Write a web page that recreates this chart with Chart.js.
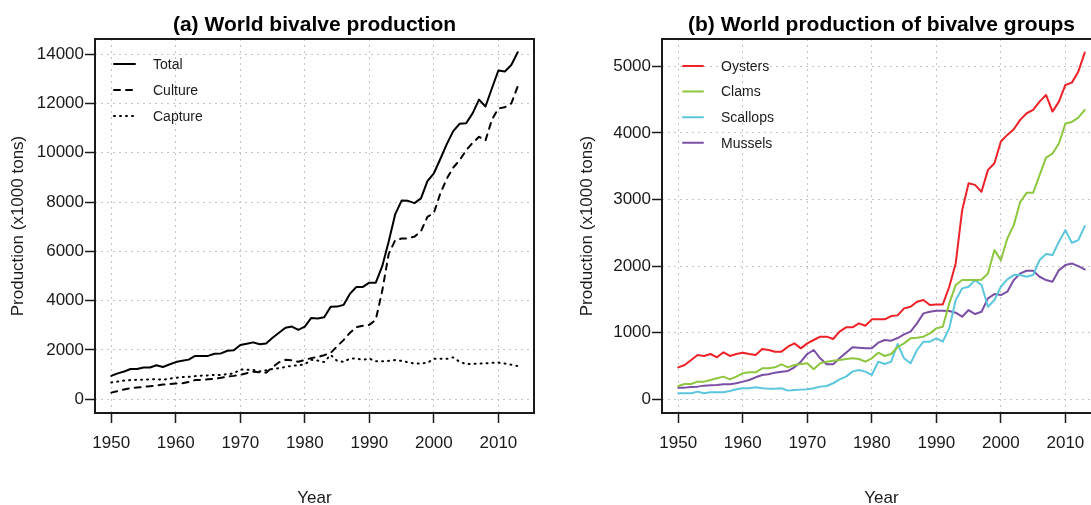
<!DOCTYPE html>
<html>
<head>
<meta charset="utf-8">
<script src="https://cdn.jsdelivr.net/npm/chart.js@4/dist/chart.umd.min.js"></script>
<style>
  html, body { margin: 0; padding: 0; background: #ffffff; }
  body { width: 1091px; height: 505px; overflow: hidden; position: relative; }
  .panel { position: absolute; top: 0; width: 560px; height: 505px; }
  #panelA { left: 0; }
  #panelB { left: 560px; }
</style>
</head>
<body>
<div class="panel" id="panelA"><canvas id="chartA" width="560" height="505"></canvas></div>
<div class="panel" id="panelB"><canvas id="chartB" width="560" height="505"></canvas></div>
<script>
// Years of record
const years = [1950,1951,1952,1953,1954,1955,1956,1957,1958,1959,
  1960,1961,1962,1963,1964,1965,1966,1967,1968,1969,
  1970,1971,1972,1973,1974,1975,1976,1977,1978,1979,
  1980,1981,1982,1983,1984,1985,1986,1987,1988,1989,
  1990,1991,1992,1993,1994,1995,1996,1997,1998,1999,
  2000,2001,2002,2003,2004,2005,2006,2007,2008,2009,
  2010,2011,2012,2013];

// Axis tick labels
const yearTicks = [1950, 1960, 1970, 1980, 1990, 2000, 2010];
const ticksA = [0, 2000, 4000, 6000, 8000, 10000, 12000, 14000];
const ticksB = [0, 1000, 2000, 3000, 4000, 5000];

// (a) World bivalve production, x1000 tons
const total = [950,1050,1130,1230,1230,1290,1290,1380,1310,1410,
  1510,1560,1610,1760,1760,1760,1850,1860,1970,1990,
  2200,2250,2310,2230,2260,2500,2700,2900,2950,2820,
  2950,3300,3280,3330,3750,3760,3830,4280,4560,4560,
  4730,4730,5400,6400,7500,8060,8050,7960,8150,8850,
  9170,9750,10350,10880,11180,11200,11600,12160,11880,12620,
  13340,13300,13560,14080];
const culture = [270,330,400,450,480,500,530,560,600,620,
  640,650,700,780,790,810,830,870,920,950,
  990,1060,1120,1100,1080,1300,1500,1600,1580,1520,
  1600,1670,1720,1790,1880,2150,2400,2700,2930,2980,
  3020,3230,4400,5900,6450,6520,6530,6600,6820,7400,
  7560,8350,8950,9400,9700,10100,10400,10650,10500,11350,
  11800,11850,12000,12700];
const capture = [680,720,760,780,790,800,810,820,790,840,
  870,900,910,940,960,970,990,990,1020,1050,
  1210,1200,1190,1130,1180,1230,1260,1310,1360,1380,
  1420,1600,1570,1510,1800,1560,1520,1650,1650,1600,
  1650,1540,1540,1560,1590,1560,1500,1450,1450,1480,
  1640,1650,1640,1700,1520,1430,1440,1450,1460,1480,
  1490,1450,1400,1350];

// (b) World production of bivalve groups, x1000 tons
const oysters = [480,515,590,665,650,680,630,705,650,680,
  700,680,665,755,740,715,715,790,840,765,
  840,890,940,940,905,1015,1080,1080,1140,1105,
  1200,1200,1200,1250,1260,1365,1390,1465,1490,1415,
  1425,1425,1690,2040,2840,3245,3220,3115,3445,3545,
  3870,3970,4055,4195,4295,4345,4470,4570,4320,4470,
  4720,4755,4920,5205];
const clams = [200,230,230,265,265,290,315,340,300,340,
  390,405,405,465,465,480,525,480,515,530,
  540,450,540,565,580,590,605,615,605,565,
  615,700,650,680,785,840,915,925,940,990,
  1065,1090,1440,1715,1790,1790,1790,1795,1890,2240,
  2090,2415,2615,2965,3100,3100,3365,3630,3690,3840,
  4140,4165,4230,4345];
const scallops = [90,90,90,115,90,105,105,105,125,150,
  165,165,180,165,160,160,165,130,140,145,
  150,165,190,200,240,300,340,415,440,415,
  365,565,530,565,830,615,540,740,865,865,
  915,865,1065,1490,1665,1690,1790,1715,1390,1490,
  1690,1800,1865,1865,1840,1865,2090,2180,2165,2365,
  2540,2350,2390,2600];
const mussels = [175,175,185,190,205,210,215,225,225,240,
  265,290,330,365,375,400,415,425,480,565,
  680,740,615,525,525,615,700,780,775,765,
  765,850,890,880,920,975,1015,1140,1290,1315,
  1330,1330,1325,1300,1240,1340,1280,1315,1515,1580,
  1565,1615,1790,1890,1930,1930,1840,1790,1765,1940,
  2015,2040,2000,1950];

const FONT = '"Liberation Sans", Arial, Helvetica, sans-serif';
const INK = '#1a1a1a';

// Frame, titles and legend for an R-style panel
const panelDecor = {
  id: 'panelDecor',
  afterDraw(chart, args, opts) {
    const { ctx, chartArea: a } = chart;
    const cx = (a.left + a.right) / 2;
    ctx.save();
    ctx.strokeStyle = INK;
    ctx.lineWidth = 2;
    ctx.strokeRect(a.left, a.top, a.right - a.left, a.bottom - a.top);

    ctx.fillStyle = '#000';
    ctx.textAlign = 'center';
    ctx.textBaseline = 'alphabetic';
    ctx.font = 'bold 21px ' + FONT;
    ctx.fillText(opts.title, cx, 31);

    ctx.fillStyle = INK;
    ctx.font = '17px ' + FONT;
    ctx.fillText(opts.xTitle, cx, 503);

    ctx.save();
    ctx.translate(opts.yTitleX, (a.top + a.bottom) / 2);
    ctx.rotate(-Math.PI / 2);
    ctx.textBaseline = 'middle';
    ctx.fillText(opts.yTitle, 0, 0);
    ctx.restore();

    // legend
    const lg = opts.legend;
    ctx.font = '14px ' + FONT;
    ctx.textAlign = 'left';
    ctx.textBaseline = 'middle';
    chart.data.datasets.forEach((ds, i) => {
      const y = lg.y + i * lg.row;
      ctx.save();
      ctx.strokeStyle = ds.borderColor;
      ctx.lineWidth = ds.borderWidth;
      ctx.lineCap = ds.borderCapStyle || 'butt';
      ctx.setLineDash(ds.borderDash || []);
      ctx.beginPath();
      ctx.moveTo(lg.x0, y);
      ctx.lineTo(lg.x1, y);
      ctx.stroke();
      ctx.restore();
      ctx.fillStyle = INK;
      ctx.fillText(ds.label, lg.tx, y + 1);
    });
    ctx.restore();
  }
};

function series(label, data, color, dash) {
  return {
    label, data,
    borderColor: color,
    backgroundColor: color,
    borderWidth: 2,
    borderDash: dash,
    borderCapStyle: 'round',
    borderJoinStyle: 'round',
    pointRadius: 0,
    tension: 0,
    fill: false
  };
}

const gridStyle = {
  color: '#c4c4c4',
  lineWidth: 1,
  drawTicks: true,
  tickLength: 10,
  tickColor: INK,
  tickWidth: 1.5,
  tickBorderDash: []
};

function makeOptions(cfg) {
  return {
    responsive: false,
    animation: false,
    devicePixelRatio: 1,
    layout: { padding: { left: 0, right: cfg.padRight, top: 39, bottom: 0 } },
    plugins: {
      legend: { display: false },
      title: { display: false },
      tooltip: { enabled: false },
      panelDecor: cfg.decor
    },
    scales: {
      x: {
        type: 'linear',
        min: 1947.48,
        max: 2015.52,
        afterFit(scale) { scale.height = 92; },
        afterBuildTicks(scale) { scale.ticks = yearTicks.map(v => ({ value: v })); },
        border: { display: false, dash: [2, 4] },
        grid: gridStyle,
        ticks: {
          autoSkip: false,
          maxRotation: 0,
          padding: 10,
          color: INK,
          font: { family: FONT, size: 17 },
          callback: (v) => String(v)
        }
      },
      y: {
        type: 'linear',
        min: cfg.yMin,
        max: cfg.yMax,
        afterFit(scale) { scale.width = cfg.yWidth; },
        afterBuildTicks(scale) { scale.ticks = cfg.yTicks.map(v => ({ value: v })); },
        border: { display: false, dash: [2, 4] },
        grid: gridStyle,
        ticks: {
          autoSkip: false,
          padding: 1,
          color: INK,
          font: { family: FONT, size: 17 },
          callback: (v) => String(v)
        }
      }
    }
  };
}

new Chart(document.getElementById('chartA'), {
  type: 'line',
  data: {
    labels: years,
    datasets: [
      series('Total', total, '#000000', []),
      series('Culture', culture, '#000000', [6, 6]),
      series('Capture', capture, '#000000', [1, 5])
    ]
  },
  options: makeOptions({
    padRight: 26, yWidth: 95, yMin: -556, yMax: 14617, yTicks: ticksA,
    decor: {
      title: '(a) World bivalve production',
      xTitle: 'Year',
      yTitle: 'Production (x1000 tons)',
      yTitleX: 18,
      legend: { x0: 114, x1: 135, tx: 153, y: 64, row: 26 }
    }
  }),
  plugins: [panelDecor]
});

new Chart(document.getElementById('chartB'), {
  type: 'line',
  data: {
    labels: years,
    datasets: [
      series('Oysters', oysters, '#EE2228', []),
      series('Clams', clams, '#8DC63F', []),
      series('Scallops', scallops, '#5BC6DC', []),
      series('Mussels', mussels, '#7A4FA5', [])
    ]
  },
  options: makeOptions({
    padRight: 19, yWidth: 102, yMin: -206, yMax: 5410, yTicks: ticksB,
    decor: {
      title: '(b) World production of bivalve groups',
      xTitle: 'Year',
      yTitle: 'Production (x1000 tons)',
      yTitleX: 27,
      legend: { x0: 123, x1: 143, tx: 161, y: 66, row: 25.6 }
    }
  }),
  plugins: [panelDecor]
});
</script>
</body>
</html>
